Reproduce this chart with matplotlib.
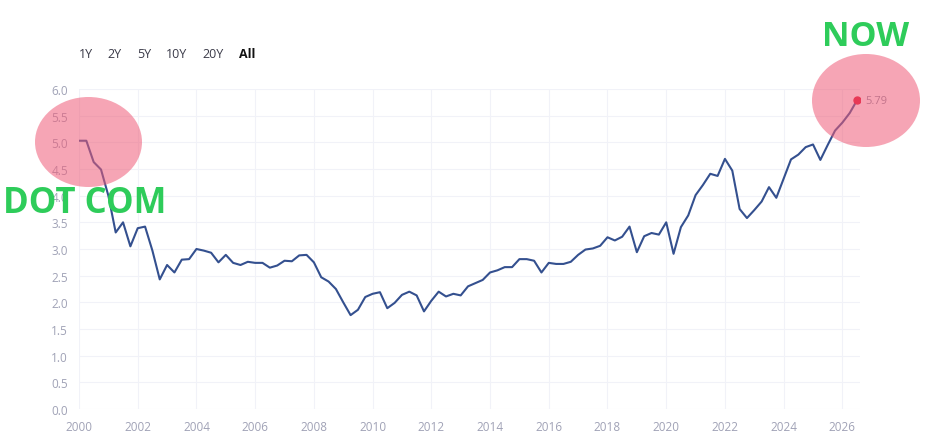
import numpy as np
import matplotlib
matplotlib.use("Agg")
import matplotlib.pyplot as plt
from matplotlib.patches import Ellipse

# Quartalswerte (Start 2000 Q1)
start_year = 2000.0
values = [
    5.03, 5.03, 4.63, 4.49, 4.00, 3.31, 3.50, 3.05,
    3.39, 3.42, 2.97, 2.43, 2.70, 2.56, 2.80, 2.81,
    3.00, 2.97, 2.93, 2.75, 2.89, 2.74, 2.70, 2.76,
    2.74, 2.74, 2.65, 2.69, 2.78, 2.77, 2.88, 2.89,
    2.75, 2.47, 2.39, 2.25, 2.00, 1.76, 1.86, 2.10,
    2.16, 2.19, 1.89, 1.99, 2.14, 2.20, 2.13, 1.83,
    2.03, 2.20, 2.11, 2.16, 2.13, 2.30, 2.36, 2.42,
    2.56, 2.60, 2.66, 2.66, 2.81, 2.81, 2.78, 2.56,
    2.74, 2.72, 2.72, 2.76, 2.89, 2.99, 3.01, 3.06,
    3.22, 3.16, 3.23, 3.42, 2.94, 3.24, 3.30, 3.27,
    3.50, 2.91, 3.41, 3.63, 4.01, 4.20, 4.41, 4.37,
    4.69, 4.47, 3.75, 3.58, 3.73, 3.89, 4.16, 3.96,
    4.32, 4.68, 4.77, 4.91, 4.96, 4.67, 4.95, 5.22,
    5.37, 5.55, 5.79,
]
years = start_year + 0.25 * np.arange(len(values))

x_ticks = list(range(2000, 2027, 2))
y_ticks = [0.0, 0.5, 1.0, 1.5, 2.0, 2.5, 3.0, 3.5, 4.0, 4.5, 5.0, 5.5, 6.0]
range_buttons = ["1Y", "2Y", "5Y", "10Y", "20Y", "All"]

plt.rcParams['font.family'] = ['Open Sans', 'DejaVu Sans']

fig = plt.figure(figsize=(9.25, 4.39), dpi=100)
ax = fig.add_axes([79 / 925, 1 - 410 / 439, 781 / 925, 320 / 439])

ax.plot(years, values, color='#34508f', lw=1.5, zorder=3)
ax.plot(years[-1], values[-1], 'o', color='#e0102f', ms=5, zorder=4)
ax.annotate(f"{values[-1]:.2f}", (years[-1], values[-1]), xytext=(6, 0),
            textcoords='offset points', va='center', fontsize=8, color='#8c8fa3')

ax.set_xlim(2000, 2026.6)
ax.set_ylim(0, 6.0)
ax.set_xticks(x_ticks)
ax.set_yticks(y_ticks)
ax.set_yticklabels([f"{v:.1f}" for v in y_ticks])
ax.tick_params(length=0, colors='#a0a2b6', labelsize=8.5, pad=8)
ax.grid(color='#f1f2f8', lw=0.8)
for s in ax.spines.values():
    s.set_visible(False)

# Overlay in Pixelkoordinaten für Buttons und Markierungen
ov = fig.add_axes([0, 0, 1, 1], zorder=10)
ov.set_xlim(0, 925)
ov.set_ylim(439, 0)
ov.axis('off')
ov.patch.set_alpha(0)

btn_x = [86, 114, 144, 177, 213, 247]
for lbl, bx in zip(range_buttons, btn_x):
    ov.text(bx, 55, lbl, ha='center', va='center', fontsize=9,
            color='#111111' if lbl == 'All' else '#3a3a48',
            fontweight='bold' if lbl == 'All' else 'normal')

for cx, cy, w, h in [(88.5, 143, 107, 90), (866, 101.5, 108, 93)]:
    ov.add_patch(Ellipse((cx, cy), w, h, color='#ef5c78', alpha=0.55, lw=0))

ov.text(85, 204, "DOT COM", ha='center', va='center', fontsize=25,
        fontweight='bold', color='#2ecc5a')
ov.text(866, 37, "NOW", ha='center', va='center', fontsize=24.5,
        fontweight='bold', color='#2ecc5a')

fig.savefig('out.png', dpi=100)
